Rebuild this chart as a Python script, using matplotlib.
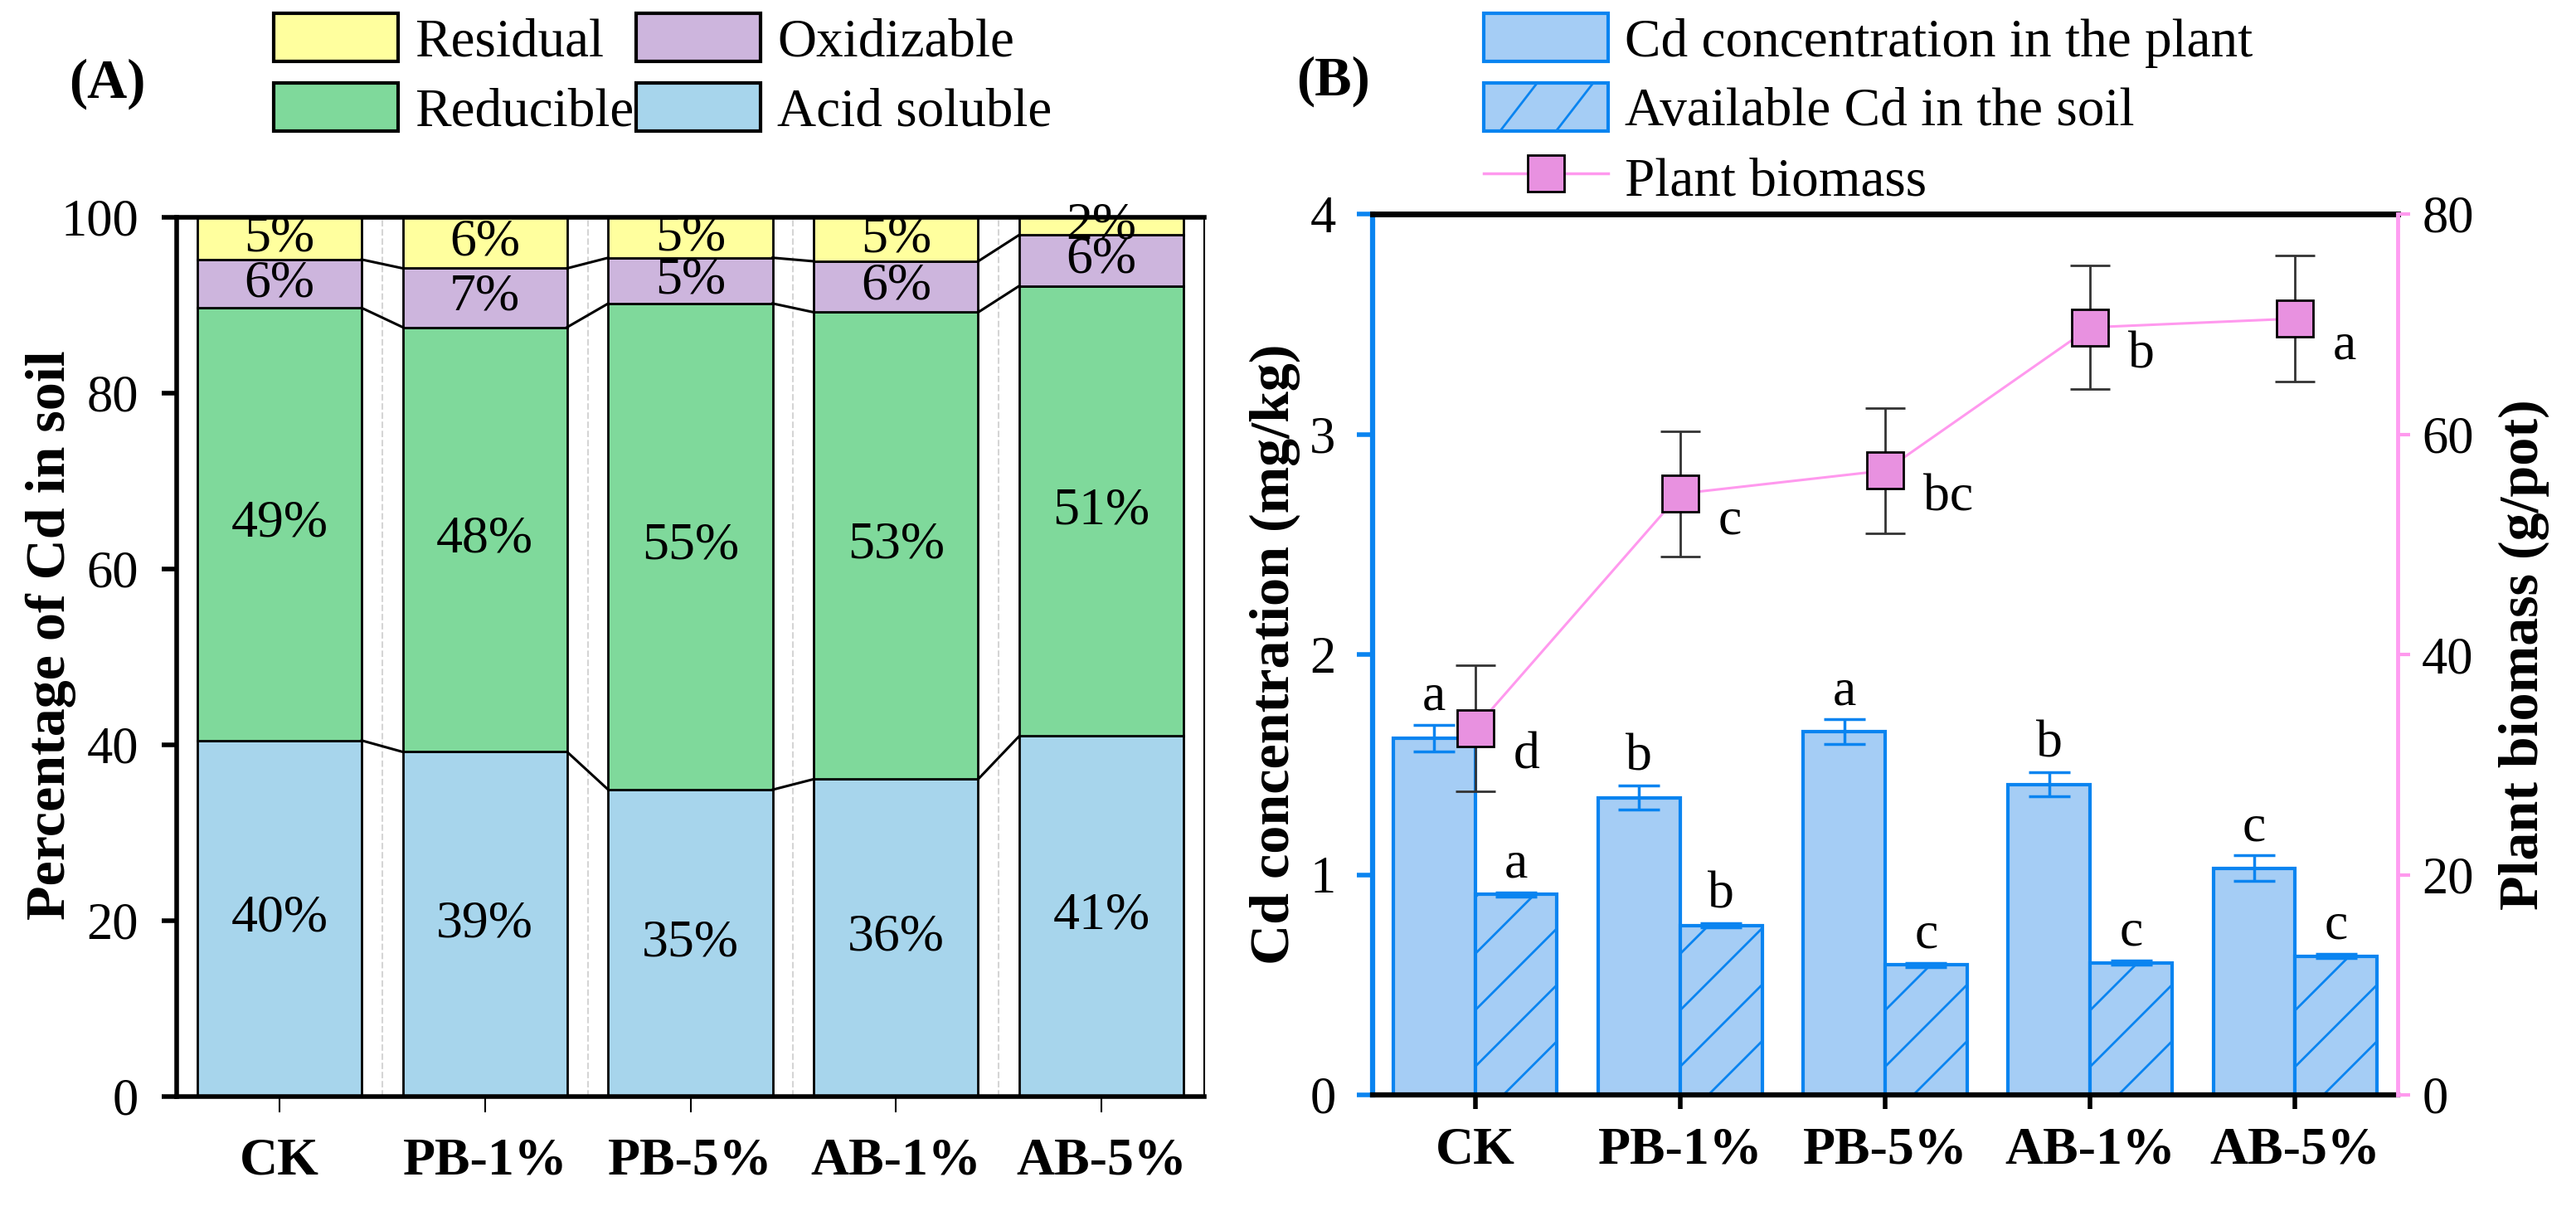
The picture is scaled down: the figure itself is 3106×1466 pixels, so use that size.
"""
Cd fractions in soil (A) and Cd uptake / plant biomass (B)
"""
import numpy as np
import matplotlib
matplotlib.use("Agg")
import matplotlib.pyplot as plt
from matplotlib.patches import Patch, Rectangle
from matplotlib.lines import Line2D
from matplotlib.legend_handler import HandlerBase

plt.rcParams["font.family"] = ["Liberation Serif", "DejaVu Serif"]

treatments = ["CK", "PB-1%", "PB-5%", "AB-1%", "AB-5%"]

# (A) Cd fractions [% of total]
acid_soluble = [40.5, 39.2, 34.9, 36.1, 41.0]
reducible = [49.2, 48.3, 55.3, 53.1, 51.2]
oxidizable = [5.5, 6.7, 5.2, 5.8, 5.8]
residual = [4.8, 5.8, 4.6, 5.0, 2.0]
acid_labels = ["40%", "39%", "35%", "36%", "41%"]
reducible_labels = ["49%", "48%", "55%", "53%", "51%"]
oxidizable_labels = ["6%", "7%", "5%", "6%", "6%"]
residual_labels = ["5%", "6%", "5%", "5%", "2%"]

# (B) Cd concentration [mg/kg] and biomass [g/pot]
cd_plant = [1.62, 1.35, 1.65, 1.41, 1.03]
cd_plant_err = [0.06, 0.055, 0.055, 0.055, 0.057]
cd_soil = [0.91, 0.77, 0.59, 0.60, 0.63]
cd_soil_err = [0.01, 0.01, 0.01, 0.01, 0.01]
biomass = [33.3, 54.6, 56.7, 69.7, 70.5]
biomass_err = [5.7, 5.7, 5.7, 5.6, 5.7]
plant_letters = ["a", "b", "a", "b", "c"]
soil_letters = ["a", "b", "c", "c", "c"]
biomass_letters = ["d", "c", "bc", "b", "a"]

W, H = 3106, 1466

BLUE = "#0A84F0"
BAR_FACE = "#A5CDF5"
PINK = "#FF99EE"
PINK_MARKER = "#E891E0"


class HatchedBoxHandler(HandlerBase):
    """legend box with two sparse diagonal strokes"""
    def create_artists(self, legend, orig_handle, xdescent, ydescent,
                       width, height, fontsize, trans):
        x0, y0 = -xdescent, -ydescent
        box = Rectangle((x0, y0), width, height, facecolor=BAR_FACE,
                        edgecolor=BLUE, linewidth=3, transform=trans)
        strokes = [Line2D([x0 + f * width, x0 + (f + 0.3) * width], [y0, y0 + height],
                          color=BLUE, lw=2, transform=trans) for f in (0.13, 0.58)]
        return [box] + strokes


def panel_a(fig):
    ax = fig.add_axes([213 / W, 1 - 1322 / H, 1239 / W, 1060 / H])
    x = np.arange(len(treatments))

    layers = [
        (acid_soluble, acid_labels, "#A7D5EC"),
        (reducible, reducible_labels, "#7FD99B"),
        (oxidizable, oxidizable_labels, "#CDB5DD"),
        (residual, residual_labels, "#FFFF9E"),
    ]
    for xg in x[:-1] + 0.5:
        ax.plot([xg, xg], [0, 100], color="#D5D5D5", lw=1.5, ls="--", zorder=1)

    bottom = np.zeros(len(x))
    tops = []
    for vals, labels, color in layers:
        vals = np.array(vals)
        ax.bar(x, vals, 0.8, bottom=bottom, color=color, edgecolor="black",
               linewidth=2, zorder=2)
        for xi, b, v, lab in zip(x, bottom, vals, labels):
            ax.text(xi, b + v / 2, lab, ha="center", va="center", fontsize=46, zorder=5)
        bottom = bottom + vals
        tops.append(bottom.copy())

    # Origin-style connectors between adjacent stacks
    for level in tops[:-1]:
        for i in range(len(x) - 1):
            ax.plot([x[i] + 0.4, x[i + 1] - 0.4], [level[i], level[i + 1]],
                    color="black", lw=2.2, zorder=3)

    ax.set_xlim(-0.5, 4.5)
    ax.set_ylim(0, 100)
    ax.set_yticks([0, 20, 40, 60, 80, 100])
    ax.set_xticks(x)
    ax.set_xticklabels(treatments, fontweight="bold", fontsize=46)
    ax.tick_params(axis="y", direction="out", length=13, width=4, pad=20, labelsize=45)
    ax.tick_params(axis="x", direction="out", length=14, width=1.5, pad=22)
    for side, lw in (("left", 4), ("bottom", 4), ("top", 4), ("right", 1.5)):
        ax.spines[side].set_linewidth(lw)

    ax.set_ylabel("Percentage of Cd in soil", fontsize=49, fontweight="bold")
    ax.yaxis.set_label_coords(-0.0977, 0.5245)

    handles = [
        Patch(facecolor="#FFFF9E", edgecolor="black", linewidth=3, label="Residual"),
        Patch(facecolor="#7FD99B", edgecolor="black", linewidth=3, label="Reducible"),
        Patch(facecolor="#CDB5DD", edgecolor="black", linewidth=3, label="Oxidizable"),
        Patch(facecolor="#A7D5EC", edgecolor="black", linewidth=3, label="Acid soluble"),
    ]
    fig.legend(handles=handles, ncol=2, loc="upper left",
               bbox_to_anchor=(330 / W, 1 - 16 / H), frameon=False, fontsize=47,
               handlelength=2.3, handleheight=1.0, handletextpad=0.3,
               labelspacing=0.28, columnspacing=0.05, borderpad=0, borderaxespad=0)
    fig.text(129 / W, 1 - 101 / H, "(A)", ha="center", va="center",
             fontsize=48, fontweight="bold")


def panel_b(fig):
    ax = fig.add_axes([1655 / W, 1 - 1320 / H, 1236 / W, 1062 / H])
    x = np.arange(len(treatments))

    ax.set_xlim(-0.5, 4.5)
    ax.set_ylim(0, 4)

    ax.bar(x - 0.2, cd_plant, 0.4, color=BAR_FACE, edgecolor=BLUE, linewidth=3, zorder=2)
    soil_bars = ax.bar(x + 0.2, cd_soil, 0.4, color=BAR_FACE, edgecolor=BLUE,
                       linewidth=3, zorder=2)
    ax.errorbar(x - 0.2, cd_plant, yerr=cd_plant_err, fmt="none", ecolor=BLUE,
                elinewidth=2.5, capsize=18, capthick=2.5, zorder=3)
    ax.errorbar(x + 0.2, cd_soil, yerr=cd_soil_err, fmt="none", ecolor=BLUE,
                elinewidth=2.5, capsize=18, capthick=2.5, zorder=3)

    # sparse "/" hatching, drawn by hand so the spacing matches
    p0 = ax.transData.transform((0, 0))
    p1 = ax.transData.transform((1, 1))
    kx, ky = p1 - p0
    step = 68
    for bar in soil_bars:
        x0, w, h = bar.get_x(), bar.get_width(), bar.get_height()
        w_px, h_px = w * kx, h * ky
        for s in np.arange(34 - step * np.ceil(h_px / step + 1), w_px + step, step):
            span = w_px + h_px + 20
            xs = x0 + np.array([s - 10, s + span]) / kx
            ys = np.array([-10, span]) / ky
            ln, = ax.plot(xs, ys, color=BLUE, lw=2, zorder=2.5)
            ln.set_clip_path(bar)

    for xi, v, e, lab in zip(x, cd_plant, cd_plant_err, plant_letters):
        ax.annotate(lab, (xi - 0.2, v + e), xytext=(0, 3), textcoords="offset points",
                    ha="center", va="bottom", fontsize=46)
    for xi, v, e, lab in zip(x, cd_soil, cd_soil_err, soil_letters):
        ax.annotate(lab, (xi + 0.2, v + e), xytext=(0, 3), textcoords="offset points",
                    ha="center", va="bottom", fontsize=46)

    ax.set_xticks(x)
    ax.set_xticklabels(treatments, fontweight="bold", fontsize=46)
    ax.set_yticks([0, 1, 2, 3, 4])
    ax.tick_params(axis="y", direction="out", length=14, width=4, colors=BLUE,
                   labelcolor="black", pad=18, labelsize=45)
    ax.tick_params(axis="x", direction="out", length=12, width=4, pad=16)
    ax.spines["left"].set_color(BLUE)
    ax.spines["left"].set_linewidth(4.5)
    ax.spines["bottom"].set_linewidth(4.5)
    ax.spines["top"].set_linewidth(5)
    ax.spines["right"].set_visible(False)
    ax.set_ylabel("Cd concentration (mg/kg)", fontsize=49, fontweight="bold")
    ax.yaxis.set_label_coords(-0.0704, 0.5)

    axr = ax.twinx()
    axr.set_ylim(0, 80)
    axr.errorbar(x, biomass, yerr=biomass_err, fmt="none", ecolor="#333333",
                 elinewidth=2, capsize=17, capthick=2, zorder=3)
    axr.plot(x, biomass, color=PINK, lw=2.2, marker="s", ms=31, mfc=PINK_MARKER,
             mec="black", mew=2, zorder=4)
    for xi, v, lab in zip(x, biomass, biomass_letters):
        axr.annotate(lab, (xi, v), xytext=(33, -24), textcoords="offset points",
                     ha="left", va="center", fontsize=46)
    axr.set_yticks([0, 20, 40, 60, 80])
    axr.tick_params(axis="y", direction="out", length=11, width=3, colors=PINK,
                    labelcolor="black", pad=10, labelsize=45)
    for side in ("left", "top", "bottom"):
        axr.spines[side].set_visible(False)
    axr.spines["right"].set_color("#FF9EF2")
    axr.spines["right"].set_linewidth(3.5)
    axr.set_ylabel("Plant biomass (g/pot)", fontsize=49, fontweight="bold")
    axr.yaxis.set_label_coords(1.098, 0.5)

    hatched = Patch(label="Available Cd in the soil")
    handles = [
        Patch(facecolor=BAR_FACE, edgecolor=BLUE, linewidth=3,
              label="Cd concentration in the plant"),
        hatched,
        Line2D([], [], color=PINK, lw=2.5, marker="s", ms=31, mfc=PINK_MARKER,
               mec="black", mew=2, label="Plant biomass"),
    ]
    fig.legend(handles=handles, loc="upper left", bbox_to_anchor=(1789 / W, 1 - 16 / H),
               frameon=False, fontsize=47, handlelength=2.3, handleheight=1.0,
               handletextpad=0.3, labelspacing=0.28, borderpad=0, borderaxespad=0,
               handler_map={hatched: HatchedBoxHandler()})
    fig.text(1607 / W, 1 - 98 / H, "(B)", ha="center", va="center",
             fontsize=48, fontweight="bold")


def main():
    fig = plt.figure(figsize=(W / 100, H / 100), dpi=100)
    panel_a(fig)
    panel_b(fig)
    fig.savefig("out.png", dpi=100)


if __name__ == "__main__":
    main()
